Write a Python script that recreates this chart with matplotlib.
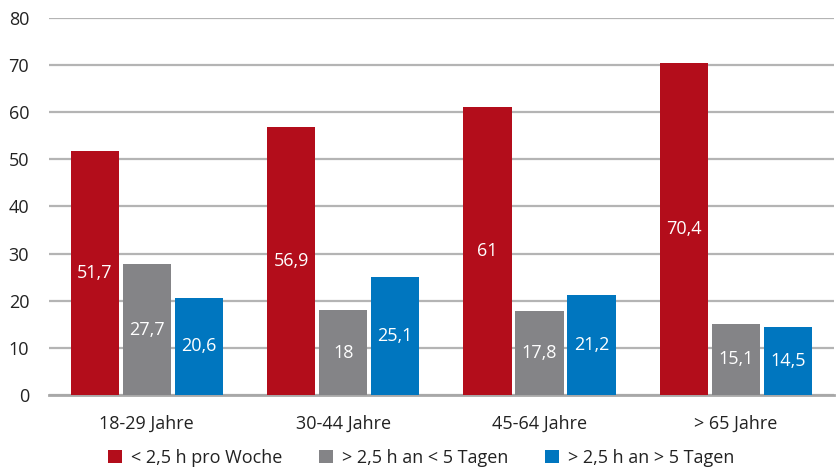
import matplotlib
matplotlib.use("Agg")
import matplotlib.pyplot as plt
import numpy as np

categories = ["18-29 Jahre", "30-44 Jahre", "45-64 Jahre", "> 65 Jahre"]
series_names = ["< 2,5 h pro Woche", "> 2,5 h an < 5 Tagen", "> 2,5 h an > 5 Tagen"]
under_2_5h = [51.7, 56.9, 61, 70.4]
over_2_5h_lt5 = [27.7, 18, 17.8, 15.1]
over_2_5h_gt5 = [20.6, 25.1, 21.2, 14.5]
yticks = [0, 10, 20, 30, 40, 50, 60, 70, 80]

colors = ["#B30D1B", "#848487", "#0076BF"]

plt.rcParams["font.family"] = ["Open Sans", "DejaVu Sans"]

fig = plt.figure(figsize=(8.39, 4.68), dpi=100)
ax = fig.add_axes([0.058, 0.156, 0.936, 0.806])

x = np.arange(len(categories))
width = 0.245
offset = 0.265
series = [under_2_5h, over_2_5h_lt5, over_2_5h_gt5]

for i, (vals, name, col) in enumerate(zip(series, series_names, colors)):
    pos = x + (i - 1) * offset
    bars = ax.bar(pos, vals, width=width, color=col, label=name, zorder=3)
    for b, v in zip(bars, vals):
        txt = f"{v:g}".replace(".", ",")
        ax.text(b.get_x() + b.get_width() / 2, v / 2, txt, ha="center", va="center",
                color="white", fontsize=13, zorder=4)

ax.set_xlim(-0.5, len(categories) - 0.5)
ax.set_ylim(0, 80)
ax.set_yticks(yticks)
ax.set_yticklabels([str(t) for t in yticks], fontsize=13, color="#222222")
ax.set_xticks(x)
ax.set_xticklabels(categories, fontsize=13, color="#222222")
ax.tick_params(axis="both", length=0)
ax.tick_params(axis="x", pad=14)
ax.tick_params(axis="y", pad=14)

ax.yaxis.grid(True, color="#b4b4b4", linewidth=1.6, zorder=0)
for s in ["top", "right", "left"]:
    ax.spines[s].set_visible(False)
ax.spines["bottom"].set_color("#a8a8a8")
ax.spines["bottom"].set_linewidth(2)

leg = fig.legend(loc="center", bbox_to_anchor=(0.502, 0.022), ncol=3, frameon=False,
                 fontsize=13, handlelength=0.8, handleheight=0.8, handletextpad=0.5,
                 columnspacing=2.0, borderpad=0)
for t in leg.get_texts():
    t.set_color("#222222")

fig.savefig("out.png", dpi=100)
